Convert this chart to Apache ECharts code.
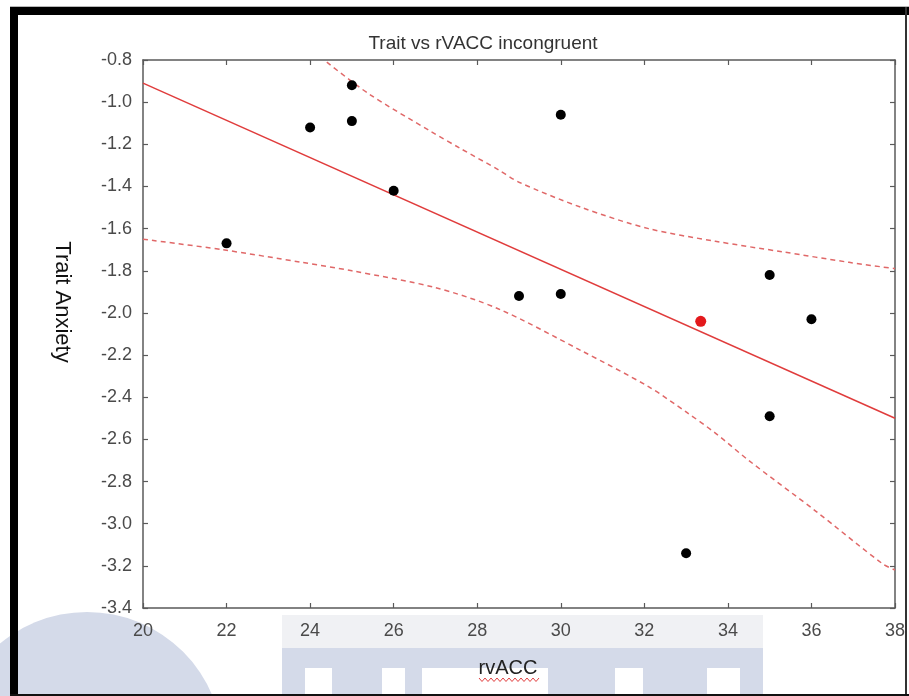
<!DOCTYPE html>
<html>
<head>
<meta charset="utf-8">
<script src="https://cdn.jsdelivr.net/npm/echarts@6/dist/echarts.min.js"></script>
<style>
html,body{margin:0;padding:0;background:#fff;}
#wrap{position:relative;width:909px;height:696px;overflow:hidden;background:#fff;}
#chart{position:absolute;left:0;top:0;width:909px;height:696px;z-index:1;}
.wm{position:absolute;z-index:0;}
.fr{position:absolute;z-index:10;pointer-events:none;}
</style>
</head>
<body>
<div id="wrap">
  <!-- faint background watermark -->
  <div class="wm" style="left:-49px;top:612px;width:272px;height:272px;border-radius:50%;background:#d4dae9;"></div>
  <div class="wm" style="left:282px;top:615px;width:481px;height:33px;background:#f0f1f4;"></div>
  <div class="wm" style="left:282px;top:648px;width:481px;height:48px;background:#d4dae9;"></div>
  <div class="wm" style="left:305px;top:668px;width:27px;height:28px;background:#fff;"></div>
  <div class="wm" style="left:382px;top:668px;width:23px;height:28px;background:#fff;"></div>
  <div class="wm" style="left:422px;top:668px;width:126px;height:28px;background:#fff;"></div>
  <div class="wm" style="left:615px;top:668px;width:28px;height:28px;background:#fff;"></div>
  <div class="wm" style="left:707px;top:668px;width:33px;height:28px;background:#fff;"></div>
  <div id="chart"></div>
  <!-- frame -->
  <div class="fr" style="left:10px;top:6px;width:899px;height:1px;background:#b8b8b8;"></div>
  <div class="fr" style="left:10px;top:7px;width:899px;height:8px;background:#000;"></div>
  <div class="fr" style="left:10px;top:7px;width:8px;height:689px;background:#000;"></div>
  <div class="fr" style="left:905px;top:7px;width:2px;height:689px;background:#333;"></div>
  <div class="fr" style="left:10px;top:694px;width:899px;height:2px;background:#111;"></div>
</div>
<script>
// ---- data ----
const titleText = 'Trait vs rVACC incongruent';
const xName = 'rvACC';
const yName = 'Trait Anxiety';

const pointX = [22, 24, 25, 25, 26, 29, 30, 30, 33, 35, 35, 36];
const pointY = [-1.67, -1.12, -0.92, -1.09, -1.42, -1.92, -1.06, -1.91, -3.14, -1.82, -2.49, -2.03];

const redPointX = [33.35];
const redPointY = [-2.04];

const fitX = [20, 38];
const fitY = [-0.91, -2.50];

const upperX = [24.4, 25.4, 26.9, 27.6, 28.5, 29.0, 30.5, 32.1, 33.7, 35.3, 36.9, 38];
const upperY = [-0.81, -0.96, -1.14, -1.22, -1.32, -1.38, -1.50, -1.60, -1.66, -1.71, -1.76, -1.79];

const lowerX = [20, 21.9, 23.8, 25, 27, 28.5, 30.5, 32.1, 33, 33.7, 34.5, 36.1, 37.7, 38];
const lowerY = [-1.65, -1.70, -1.76, -1.80, -1.88, -1.98, -2.18, -2.35, -2.47, -2.57, -2.70, -2.94, -3.19, -3.22];

const xMin = 20, xMax = 38, xStep = 2;
const yMin = -3.4, yMax = -0.8, yStep = 0.2;

// ---- build ----
const pairs = (xs, ys) => xs.map((x, i) => [x, ys[i]]);

const chart = echarts.init(document.getElementById('chart'), null, {renderer: 'canvas'});

const axisColor = '#5a5a5a';
const labelFont = {fontFamily: 'Liberation Sans, Arial, sans-serif', fontSize: 18, color: '#4a4a4a'};

// squiggle under x label (decorative)
const squiggle = [];
for (let i = 0; i <= 20; i++) {
  squiggle.push([479 + i * 3, i % 2 === 0 ? 678 : 681.5]);
}

const option = {
  animation: false,
  backgroundColor: 'transparent',
  grid: {left: 143, right: 14, top: 60, bottom: 88, containLabel: false, outerBoundsMode: 'none'},
  xAxis: [
    {
      type: 'value', min: xMin, max: xMax, interval: xStep, position: 'bottom',
      axisLine: {show: true, onZero: false, lineStyle: {color: axisColor, width: 1.5}},
      axisTick: {show: true, inside: true, length: 5, lineStyle: {color: axisColor, width: 1.2}},
      axisLabel: Object.assign({margin: 14}, labelFont),
      splitLine: {show: false}
    },
    {
      type: 'value', min: xMin, max: xMax, interval: xStep, position: 'top',
      axisLine: {show: true, onZero: false, lineStyle: {color: axisColor, width: 1.5}},
      axisTick: {show: true, inside: true, length: 5, lineStyle: {color: axisColor, width: 1.2}},
      axisLabel: {show: false},
      splitLine: {show: false}
    }
  ],
  yAxis: [
    {
      type: 'value', min: yMin, max: yMax, interval: yStep, position: 'left',
      axisLine: {show: true, onZero: false, lineStyle: {color: axisColor, width: 1.5}},
      axisTick: {show: true, inside: true, length: 5, lineStyle: {color: axisColor, width: 1.2}},
      axisLabel: Object.assign({margin: 11, formatter: v => v.toFixed(1)}, labelFont),
      splitLine: {show: false}
    },
    {
      type: 'value', min: yMin, max: yMax, interval: yStep, position: 'right',
      axisLine: {show: true, onZero: false, lineStyle: {color: axisColor, width: 1.5}},
      axisTick: {show: true, inside: true, length: 5, lineStyle: {color: axisColor, width: 1.2}},
      axisLabel: {show: false},
      splitLine: {show: false}
    }
  ],
  series: [
    {
      type: 'line', data: pairs(upperX, upperY), showSymbol: false, smooth: 0.3, silent: true, clip: true,
      lineStyle: {color: '#e06868', width: 1.5, type: [5, 4]}, z: 3
    },
    {
      type: 'line', data: pairs(lowerX, lowerY), showSymbol: false, smooth: 0.3, silent: true, clip: true,
      lineStyle: {color: '#e06868', width: 1.5, type: [5, 4]}, z: 3
    },
    {
      type: 'line', data: pairs(fitX, fitY), showSymbol: false, silent: true, clip: true,
      lineStyle: {color: '#e03c3c', width: 1.5}, z: 3
    },
    {
      type: 'scatter', data: pairs(pointX, pointY), symbol: 'circle', symbolSize: 10,
      itemStyle: {color: '#000000', opacity: 1}, z: 5
    },
    {
      type: 'scatter', data: pairs(redPointX, redPointY), symbol: 'circle', symbolSize: 11,
      itemStyle: {color: '#e3191c', opacity: 1}, z: 5
    }
  ],
  graphic: {
    elements: [
      {type: 'text', x: 483, y: 44, style: {text: titleText, fill: '#333333', font: '19px "Liberation Sans", Arial, sans-serif', textAlign: 'center', textVerticalAlign: 'middle'}},
      {type: 'text', x: 62, y: 302, rotation: -Math.PI / 2, style: {text: yName, fill: '#111111', font: '22px "Liberation Sans", Arial, sans-serif', textAlign: 'center', textVerticalAlign: 'middle'}},
      {type: 'text', x: 508, y: 668, style: {text: xName, fill: '#222222', font: '20px "Liberation Sans", Arial, sans-serif', textAlign: 'center', textVerticalAlign: 'middle'}},
      {type: 'polyline', shape: {points: squiggle}, style: {stroke: '#e04040', lineWidth: 1, fill: null}, silent: true}
    ]
  }
};

chart.setOption(option);
</script>
</body>
</html>
